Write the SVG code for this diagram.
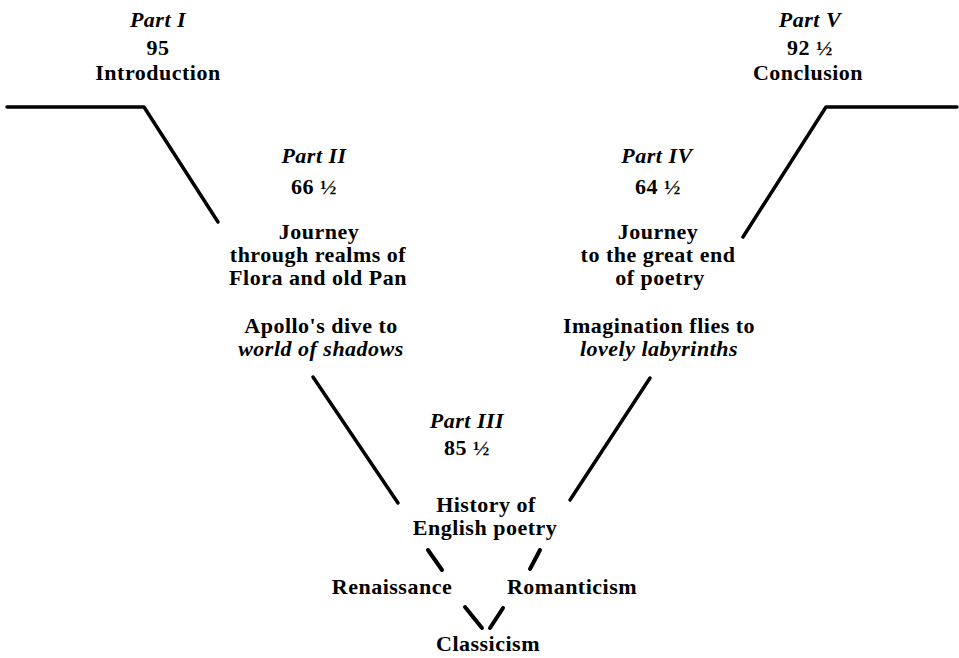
<svg xmlns="http://www.w3.org/2000/svg" width="959" height="658" viewBox="0 0 959 658">
<style>
text{font-family:"Liberation Serif","Times New Roman",serif;font-size:22px;font-weight:bold;fill:#000;text-anchor:middle;letter-spacing:0.5px}
.it{font-style:italic}
.ln{stroke:#000;stroke-width:3.5;fill:none;stroke-linecap:round;stroke-linejoin:round}
.tk{stroke:#000;stroke-width:4;fill:none;stroke-linecap:round}
</style>
<rect width="959" height="658" fill="#fff"/>
<g id="connectors">
<polyline class="ln" points="7,107 144,107 218,222"/>
<line class="ln" x1="313" y1="377" x2="398" y2="503"/>
<line class="ln" x1="650" y1="378" x2="570" y2="500"/>
<polyline class="ln" points="743,237 826,107 957,107"/>
<line class="tk" x1="428" y1="550" x2="442" y2="570"/>
<line class="tk" x1="540" y1="550" x2="530" y2="569"/>
<line class="tk" x1="465" y1="607" x2="482" y2="628"/>
<line class="tk" x1="503" y1="608" x2="490" y2="628"/>
</g>
<g id="part1">
<text class="it" x="158" y="27">Part I</text>
<text x="158" y="55">95</text>
<text x="158" y="80">Introduction</text>
</g>
<g id="part5">
<text class="it" x="810" y="27">Part V</text>
<text x="810" y="55">92 ½</text>
<text x="808" y="80">Conclusion</text>
</g>
<g id="part2">
<text class="it" x="314" y="163">Part II</text>
<text x="314" y="194">66 ½</text>
<text x="319" y="239">Journey</text>
<text x="318" y="262">through realms of</text>
<text x="318" y="285">Flora and old Pan</text>
<text x="321" y="333">Apollo's dive to</text>
<text class="it" x="321" y="356">world of shadows</text>
</g>
<g id="part4">
<text class="it" x="657" y="163">Part IV</text>
<text x="658" y="194">64 ½</text>
<text x="658" y="239">Journey</text>
<text x="658" y="262">to the great end</text>
<text x="660" y="285">of poetry</text>
<text x="659" y="333">Imagination flies to</text>
<text class="it" x="659" y="356">lovely labyrinths</text>
</g>
<g id="part3">
<text class="it" x="467" y="428">Part III</text>
<text x="467" y="455">85 ½</text>
<text x="486" y="512">History of</text>
<text x="485" y="535">English poetry</text>
</g>
<g id="renaissance"><text x="392" y="594">Renaissance</text></g>
<g id="romanticism"><text x="572" y="594">Romanticism</text></g>
<g id="classicism"><text x="488" y="651">Classicism</text></g>
</svg>
